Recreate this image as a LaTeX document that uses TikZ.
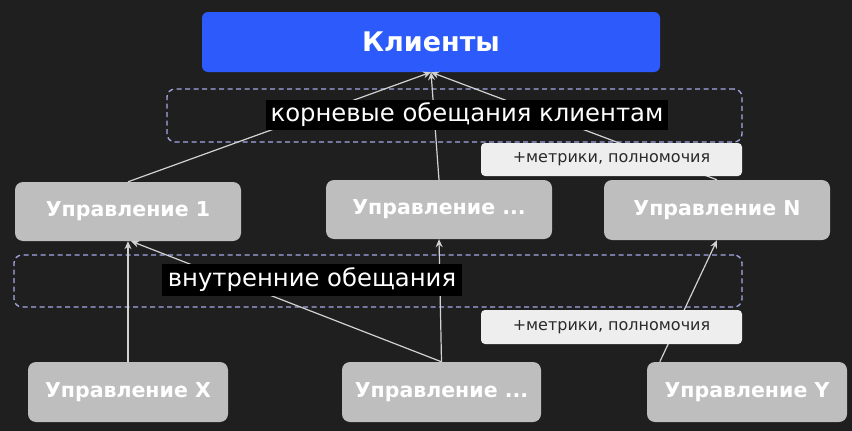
\documentclass[tikz,border=0pt]{standalone}
\usepackage{fontspec}
\setmainfont{DejaVu Sans}
\usetikzlibrary{arrows.meta,calc}
\definecolor{bgc}{HTML}{201F1F}
\definecolor{bluec}{HTML}{2D5BFB}
\definecolor{grayc}{HTML}{BEBEBE}
\definecolor{dashc}{HTML}{A4A8E8}
\definecolor{linec}{HTML}{D2D2D2}
\definecolor{tagc}{HTML}{EEEEEE}
\definecolor{tagtext}{HTML}{2A2A2A}
\tikzset{
  topbox/.style={fill=bluec, rounded corners=6pt, minimum width=458pt, minimum height=60pt, text=white, font=\fontsize{27}{30}\selectfont\bfseries, inner sep=0pt},
  unitbox/.style={fill=grayc, rounded corners=8pt, minimum height=60pt, text=white, font=\fontsize{20.5}{23}\selectfont\bfseries, inner sep=0pt},
  groupbox/.style={draw=dashc, dash pattern=on 5pt off 3.5pt, line width=1.3pt, rounded corners=8pt, inner sep=0pt},
  blacklabel/.style={fill=black, text=white, font=\fontsize{24.3}{27}\selectfont, inner sep=0pt},
  tag/.style={fill=tagc, rounded corners=4pt, text=tagtext, font=\fontsize{16}{18}\selectfont, minimum width=261pt, minimum height=33pt, inner sep=0pt},
  link/.style={draw=linec, line width=1.2pt, -{Stealth[length=8pt,width=7pt]}}
}
\begin{document}
\begin{tikzpicture}[x=1pt,y=-1pt]
\fill[bgc] (0,0) rectangle (852,431);
\useasboundingbox (0,0) rectangle (852,431);
% group frames
\node[groupbox, minimum width=575pt, minimum height=53pt] (g1) at (454.5,115.5) {};
\node[groupbox, minimum width=728pt, minimum height=52pt] (g2) at (378,281) {};
% boxes
\node[topbox] (K) at (431,42) {Клиенты};
\node[unitbox, minimum width=226pt, minimum height=59pt] (U1) at (128,211.5) {Управление 1};
\node[unitbox, minimum width=226pt, minimum height=59pt] (Um) at (439,209.5) {Управление ...};
\node[unitbox, minimum width=226pt] (UN) at (717,210) {Управление N};
\node[unitbox, minimum width=200pt] (UX) at (128,392) {Управление X};
\node[unitbox, minimum width=199pt] (Um2) at (441.5,392) {Управление ...};
\node[unitbox, minimum width=200pt] (UY) at (747,392) {Управление Y};
\coordinate (UYs) at ($(UY.north west)+(13,0)$);
% connectors
\draw[link] (U1.north) -- (K.south);
\draw[link] (Um.north) -- (K.south);
\draw[link] (UN.north) -- (K.south);
\draw[link] (UX.north) -- (U1.south);
\draw[link] (Um2.north) -- ($(U1.south)+(3,0)$);
\draw[link] (Um2.north) -- (Um.south);
\draw[link] (UYs) -- (UN.south);
% labels
\node[blacklabel, minimum width=402pt, minimum height=30pt] (l1) at (467,115) {корневые обещания клиентам};
\node[blacklabel, minimum width=300pt, minimum height=32pt] (l2) at (312,280) {внутренние обещания};
\node[tag] (t1) at (611.5,159.5) {+метрики, полномочия};
\node[tag, minimum height=34pt] (t2) at (611.5,327) {+метрики, полномочия};
\end{tikzpicture}
\end{document}
